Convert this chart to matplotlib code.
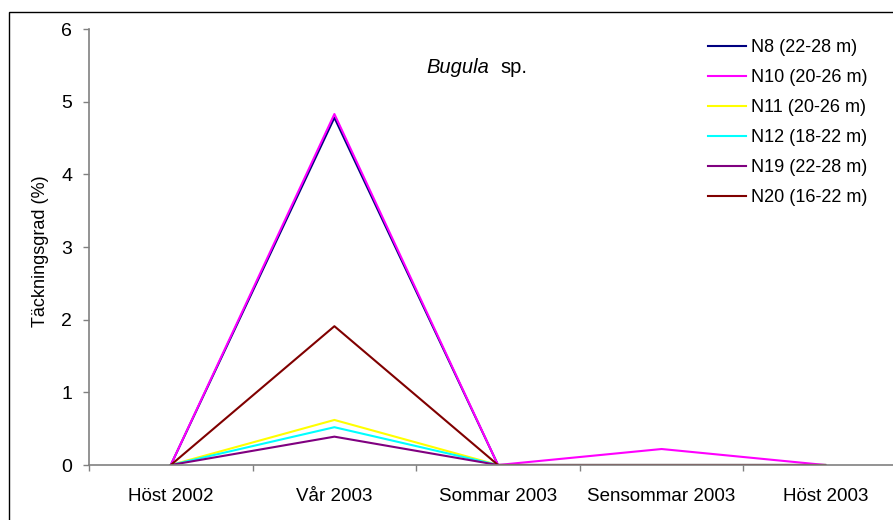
import numpy as np
import matplotlib
matplotlib.use("Agg")
import matplotlib.pyplot as plt
from matplotlib.patches import Rectangle

plt.rcParams["font.family"] = ["Liberation Sans", "DejaVu Sans"]

seasons = ["Höst 2002", "Vår 2003", "Sommar 2003", "Sensommar 2003", "Höst 2003"]
labels = ["N8 (22-28 m)", "N10 (20-26 m)", "N11 (20-26 m)",
          "N12 (18-22 m)", "N19 (22-28 m)", "N20 (16-22 m)"]
n8 = [0, 4.78, 0, 0, 0]
n10 = [0, 4.83, 0, 0.22, 0]
n11 = [0, 0.62, 0, 0, 0]
n12 = [0, 0.52, 0, 0, 0]
n19 = [0, 0.39, 0, 0, 0]
n20 = [0, 1.91, 0, 0, 0]
colors = ["#000080", "#FF00FF", "#FFFF00", "#00FFFF", "#800080", "#800000"]

W, H = 893, 520
fig = plt.figure(figsize=(W / 100, H / 100), dpi=100)

# outer chart border (right/bottom edges fall outside the image)
fig.patches.append(Rectangle((9 / W, -0.1), 1.2, (H - 12) / H + 0.1,
                             transform=fig.transFigure, fill=False,
                             edgecolor="black", linewidth=1.0))

left, right, top, bottom = 89, 907, 29, 465
ax = fig.add_axes([left / W, (H - bottom) / H, (right - left) / W, (bottom - top) / H])

x = np.arange(len(seasons))
for vals, lab, c in zip([n8, n10, n11, n12, n19, n20], labels, colors):
    ax.plot(x, vals, color=c, linewidth=1.5, label=lab)

ax.set_xlim(-0.5, len(seasons) - 0.5)
ax.set_ylim(0, 6)
ax.set_yticks(range(7))
ax.set_xticks(x)
ax.set_xticklabels(seasons)
ax.set_xticks(np.arange(-0.5, len(seasons)), minor=True)

for s in ["top", "right"]:
    ax.spines[s].set_visible(False)
for s in ["left", "bottom"]:
    ax.spines[s].set_color("#808080")
    ax.spines[s].set_linewidth(1.2)

ax.tick_params(axis="x", which="major", length=0, pad=16.5, labelsize=13.5)
ax.tick_params(axis="x", which="minor", length=4, color="#808080", width=1)
ax.tick_params(axis="y", length=4, color="#808080", width=1, pad=8, labelsize=14)
ax.set_ylabel("Täckningsgrad (%)", fontsize=13)
ax.yaxis.set_label_coords((49 - left) / (right - left), 0.49)

fig.text(489 / W, (H - 73) / H, "Bugula", style="italic", fontsize=14.5,
         ha="right", va="baseline")
fig.text(500 / W, (H - 73) / H, "sp.", fontsize=14.5, ha="left", va="baseline")

ax.legend(loc="upper left", bbox_to_anchor=(708 / W, (H - 39) / H),
          bbox_transform=fig.transFigure, frameon=False, fontsize=13,
          handlelength=2.1, handletextpad=0.28, labelspacing=0.72,
          borderaxespad=0, borderpad=0)

fig.savefig("out.png", dpi=100)
